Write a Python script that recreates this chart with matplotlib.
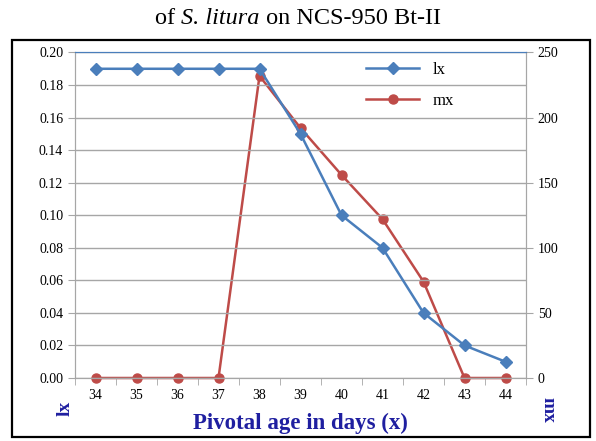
import matplotlib
matplotlib.use("Agg")
import matplotlib.pyplot as plt
from matplotlib.patches import Rectangle

plt.rcParams["font.family"] = ["Liberation Serif", "DejaVu Serif"]

# data
age_days = [34, 35, 36, 37, 38, 39, 40, 41, 42, 43, 44]
lx = [0.19, 0.19, 0.19, 0.19, 0.19, 0.15, 0.10, 0.08, 0.04, 0.02, 0.01]
mx = [0, 0, 0, 0, 232, 192, 156, 122, 74, 0, 0]

BLUE = "#4A7EBB"
RED = "#BE4B48"
GRID = "#A6A6A6"
LABEL = "#1F1FA0"

fig = plt.figure(figsize=(5.96, 4.41), dpi=100)
ax = fig.add_axes([75 / 596, 1 - 378 / 441, (526 - 75) / 596, (378 - 52.5) / 441])
ax2 = ax.twinx()

# outer frame
fig.patches.append(Rectangle((12 / 596, 4 / 441), 578 / 596, 397 / 441,
                             transform=fig.transFigure, fill=False,
                             edgecolor="black", linewidth=1.6))

# title in pieces so the species name can be italic
title_parts = [("of ", "normal"), ("S. litura", "italic"), (" on NCS-950 Bt-II", "normal")]
renderer = fig.canvas.get_renderer()
texts = []
x = 0.0
for part, style in title_parts:
    t = fig.text(x, 1 - 18 / 441, part, ha="left", va="center", fontsize=17.5,
                 fontstyle=style)
    bb = t.get_window_extent(renderer)
    texts.append((t, x))
    x += bb.width / fig.bbox.width
offset = 0.5 - x / 2
for t, x0 in texts:
    t.set_x(x0 + offset)

ax.set_xlim(33.5, 44.5)
ax.set_ylim(0, 0.20)
ax2.set_ylim(0, 250)

ax.set_yticks([i * 0.02 for i in range(11)])
ax.set_yticklabels([f"{i * 0.02:.2f}" for i in range(11)])
ax2.set_yticks(range(0, 251, 50))
ax.set_xticks(age_days)
ax.set_xticks([a + 0.5 for a in [33] + age_days], minor=True)
ax.tick_params(axis="x", which="major", length=0, pad=8)
ax.tick_params(axis="x", which="minor", length=5, color=GRID, direction="out")
ax.tick_params(axis="y", length=5, color=GRID, labelsize=10)
ax.tick_params(axis="x", labelsize=10)
ax2.tick_params(axis="y", length=5, color=GRID, labelsize=10)

ax.yaxis.grid(True, color=GRID, linewidth=1)
ax.set_axisbelow(True)

for a in (ax, ax2):
    for side in ("left", "right", "bottom"):
        a.spines[side].set_color(GRID)
    a.spines["top"].set_color(BLUE)

ax2.plot(age_days, mx, color=RED, marker="o", markersize=6.5, linewidth=1.8,
         label="mx", zorder=2, clip_on=False)
ax.plot(age_days, lx, color=BLUE, marker="D", markersize=6, linewidth=1.8,
        label="lx", zorder=3, clip_on=False)
ax.set_zorder(ax2.get_zorder() + 1)
ax.patch.set_visible(False)

h1, l1 = ax.get_legend_handles_labels()
h2, l2 = ax2.get_legend_handles_labels()
ax.legend(h1 + h2, l1 + l2, loc="upper left", bbox_to_anchor=(0.612, 1.017),
          frameon=False, fontsize=12, handlelength=3.2, labelspacing=0.9)

ax.set_xlabel("Pivotal age in days (x)", fontsize=16.5, fontweight="bold",
              color=LABEL, labelpad=8)
fig.text(65 / 596, 1 - 408 / 441, "lx", rotation=90, ha="center", va="center",
         fontsize=14, fontweight="bold", color=LABEL)
fig.text(548 / 596, 1 - 410 / 441, "mx", rotation=270, ha="center", va="center",
         fontsize=14, fontweight="bold", color=LABEL)

fig.savefig("out.png", dpi=100)
